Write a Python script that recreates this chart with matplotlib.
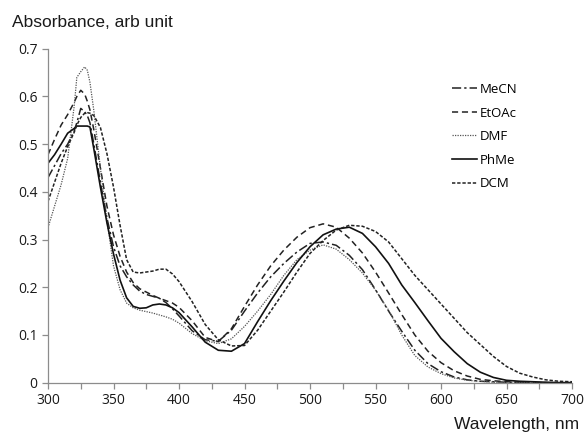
import matplotlib
matplotlib.use("Agg")
import matplotlib.pyplot as plt

# wavelength grid (nm), shared by all solvents
wavelength = [300, 305, 310, 315, 320, 322, 325, 328, 330, 332, 335, 340, 345, 350,
              355, 360, 365, 370, 375, 380, 385, 390, 395, 400, 410, 420, 430, 440,
              450, 460, 470, 480, 490, 500, 510, 520, 530, 540, 550, 560, 570, 580,
              590, 600, 610, 620, 630, 640, 650, 660, 670, 680, 690, 700]

mecn = [.430, .455, .480, .500, .528, .545, .575, .568, .560, .545, .500, .420, .345, .285,
        .245, .222, .205, .192, .185, .181, .177, .168, .155, .140, .109, .090, .087, .110,
        .150, .188, .222, .250, .274, .292, .295, .288, .267, .237, .195, .150, .108, .068,
        .040, .023, .012, .006, .003, .002, .001, 0, 0, 0, 0, 0]

etoac = [.478, .510, .540, .562, .588, .600, .613, .605, .590, .572, .530, .450, .370, .310,
         .265, .232, .210, .197, .190, .183, .177, .172, .167, .158, .130, .095, .086, .113,
         .160, .205, .245, .278, .305, .325, .333, .326, .303, .272, .232, .188, .143, .100,
         .066, .042, .025, .014, .007, .004, .002, .001, 0, 0, 0, 0]

dmf = [.325, .370, .415, .470, .580, .640, .652, .662, .655, .630, .570, .450, .340, .245,
       .195, .167, .157, .152, .149, .146, .142, .138, .133, .125, .103, .088, .082, .092,
       .118, .150, .185, .225, .258, .278, .289, .280, .258, .230, .194, .152, .100, .057,
       .033, .019, .010, .005, .003, .001, 0, 0, 0, 0, 0, 0]

phme = [.460, .478, .500, .523, .533, .538, .538, .538, .538, .536, .490, .410, .335, .270,
        .215, .178, .160, .156, .157, .163, .165, .163, .157, .147, .117, .085, .068, .066,
        .082, .128, .172, .213, .252, .285, .310, .322, .326, .313, .285, .250, .205, .168,
        .130, .093, .065, .040, .022, .011, .005, .003, .002, .001, 0, 0]

dcm = [.380, .420, .460, .495, .525, .540, .556, .565, .566, .565, .560, .535, .480, .410,
       .330, .258, .232, .230, .232, .234, .238, .238, .228, .212, .170, .122, .090, .077,
       .078, .110, .150, .190, .232, .271, .298, .320, .330, .328, .317, .295, .260, .225,
       .195, .165, .135, .105, .080, .055, .034, .020, .012, .006, .003, .002]

labels = ["MeCN", "EtOAc", "DMF", "PhMe", "DCM"]
series = [mecn, etoac, dmf, phme, dcm]
styles = [
    dict(color="#222222", lw=1.1, dashes=(6, 2, 1.5, 2)),
    dict(color="#222222", lw=1.1, dashes=(4, 2.5)),
    dict(color="#555555", lw=0.9, dashes=(1, 1)),
    dict(color="#111111", lw=1.2, linestyle="-"),
    dict(color="#222222", lw=1.1, dashes=(2.2, 1.2)),
]

fig = plt.figure(figsize=(5.84, 4.34), dpi=100)
ax = fig.add_axes([0.0822, 0.1182, 0.8973, 0.7694])

for y, lab, st in zip(series, labels, styles):
    ax.plot(wavelength, y, label=lab, **st)

ax.set_xlim(300, 700)
ax.set_ylim(0, 0.7)
ax.set_xticks(range(300, 701, 50))
ax.set_xticks(range(325, 700, 50), minor=True)
ax.set_yticks([0, 0.1, 0.2, 0.3, 0.4, 0.5, 0.6, 0.7])
ax.set_yticklabels(["0", "0.1", "0.2", "0.3", "0.4", "0.5", "0.6", "0.7"])

for s in ("top", "right"):
    ax.spines[s].set_visible(False)
for s in ("left", "bottom"):
    ax.spines[s].set_color("#8c8c8c")
    ax.spines[s].set_linewidth(0.9)
ax.tick_params(which="both", direction="out", length=4, width=0.9, color="#8c8c8c",
               labelsize=10, labelcolor="#1a1a1a")
for t in ax.get_xticklabels() + ax.get_yticklabels():
    t.set_family("Open Sans")

fig.text(12 / 584, 1 - 27 / 434, "Absorbance, arb unit", fontsize=12.5,
         family="Liberation Sans", color="#1a1a1a", ha="left", va="baseline")
fig.text(579 / 584, 1 - 429 / 434, "Wavelength, nm", fontsize=12.5,
         family="Liberation Sans", color="#1a1a1a", ha="right", va="baseline")

leg = ax.legend(loc="upper left", bbox_to_anchor=(452 / 584, 1 - 83 / 434),
                bbox_transform=fig.transFigure, frameon=False,
                handlelength=1.9, handletextpad=0.2, labelspacing=0.8,
                borderaxespad=0, borderpad=0, prop={"family": "Open Sans", "size": 9.5})

fig.savefig("out.png", dpi=100)
